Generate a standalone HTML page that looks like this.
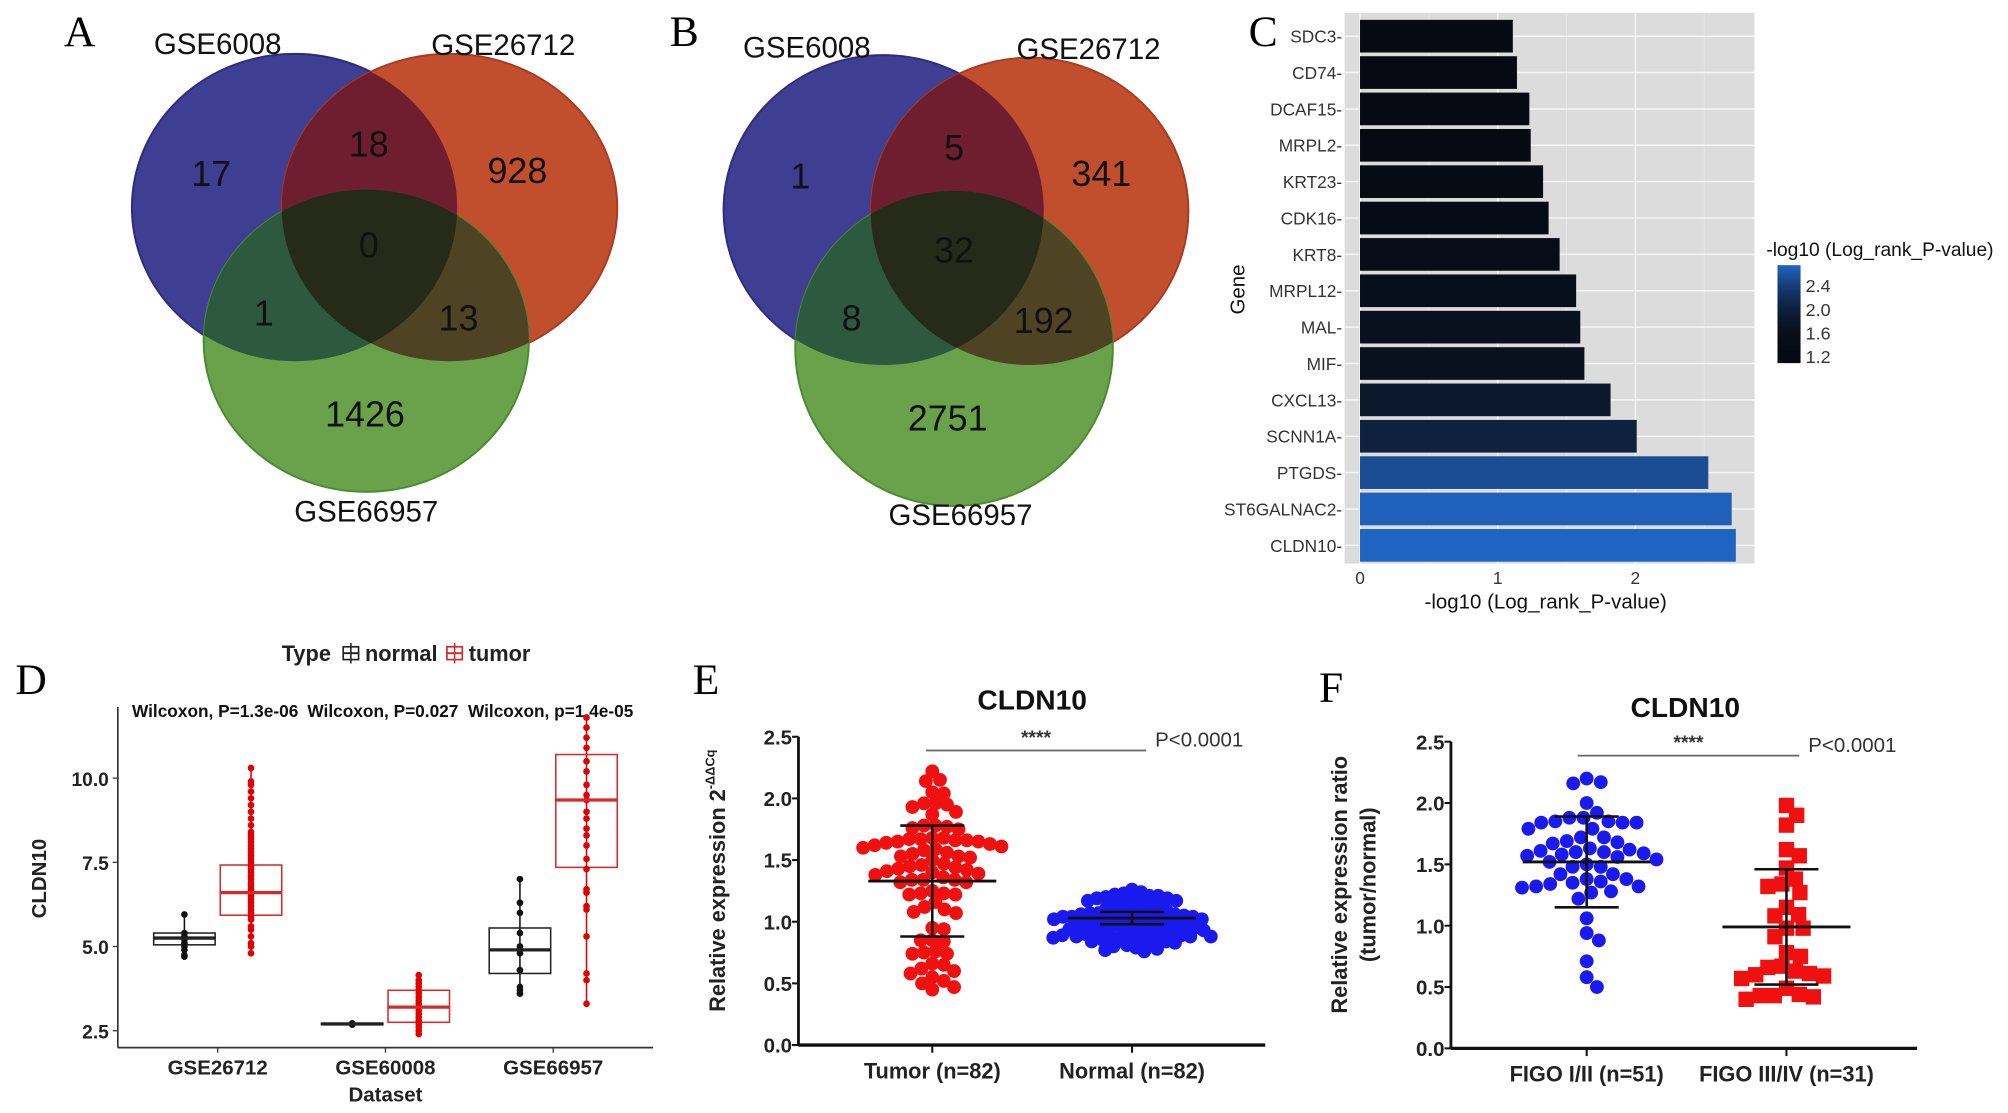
<!DOCTYPE html>
<html><head><meta charset="utf-8"><style>
html,body{margin:0;padding:0;background:#fff;}
svg{display:block;font-family:"Liberation Sans",sans-serif;}
.lt{font-family:"Liberation Serif",serif;font-size:34px;}
</style></head><body>
<svg id="fig" xmlns="http://www.w3.org/2000/svg" width="2008" height="1113" viewBox="0 0 1568 869">
<rect width="1568" height="869" fill="#fff"/>
<defs>
<clipPath id="cAb"><ellipse cx="230" cy="162" rx="127" ry="120"/></clipPath>
<clipPath id="cAr"><ellipse cx="351" cy="162" rx="131" ry="120"/></clipPath>
<clipPath id="cBb"><ellipse cx="690" cy="164" rx="125" ry="121"/></clipPath>
<clipPath id="cBr"><ellipse cx="804" cy="165" rx="124" ry="120"/></clipPath>
</defs>
<g id="panelA"></g>
<g id="panelB"></g>
<g id="panelC"></g>
<g id="panelD"></g>
<g id="panelE"></g>
<g id="panelF"></g>
</svg>
<script>
// ---- Venn data ----
const vennAcounts = ["17","18","928","0","1","13","1426"];
const vennBcounts = ["1","5","341","32","8","192","2751"];
const vennSets = ["GSE6008","GSE26712","GSE66957"];
// ---- C data ----
const cGenes = ["SDC3","CD74","DCAF15","MRPL2","KRT23","CDK16","KRT8","MRPL12","MAL","MIF","CXCL13","SCNN1A","PTGDS","ST6GALNAC2","CLDN10"];
const cValues = [1.11,1.14,1.23,1.24,1.33,1.37,1.45,1.57,1.60,1.63,1.82,2.01,2.53,2.70,2.73];
const cTicks = [0,1,2];
const cLegendTicks = ["2.4","2.0","1.6","1.2"];
const cLegendVals = [2.4,2.0,1.6,1.2];
// ---- D data ----
const dCats = ["GSE26712","GSE60008","GSE66957"];
const dTicks = [2.5,5.0,7.5,10.0];
const dPvals = ["Wilcoxon, P=1.3e-06","Wilcoxon, P=0.027","Wilcoxon, p=1.4e-05"];
const dNormalBox = [[5.05,5.25,5.4],[2.68,2.7,2.72],[4.2,4.9,5.55]];
const dTumorBox = [[5.93,6.6,7.42],[2.75,3.2,3.7],[7.35,9.35,10.7]];
const dNormalPts = [[4.7,4.75,4.9,5.0,5.1,5.2,5.25,5.3,5.4,5.95],[2.68,2.7,2.72],[3.6,3.7,3.8,4.3,4.8,4.9,5.0,5.4,6.0,6.3,7.0]];
const dTumorPts = [
 [4.8,5.0,5.1,5.3,5.5,5.6,5.8,5.9,6.0,6.1,6.2,6.3,6.4,6.5,6.6,6.7,6.8,6.9,7.0,7.1,7.2,7.3,7.4,7.5,7.6,7.7,7.8,7.9,8.0,8.1,8.2,8.3,8.4,8.6,8.8,9.0,9.2,9.4,9.6,9.8,9.9,10.3],
 [2.4,2.5,2.6,2.7,2.8,2.9,3.0,3.1,3.2,3.3,3.4,3.5,3.6,3.7,3.8,3.9,4.0,4.15],
 [3.3,4.0,4.2,5.3,6.1,6.2,6.6,6.7,7.3,7.6,8.0,8.3,8.5,8.8,9.0,9.35,9.5,9.8,10.2,10.5,10.9,11.2,11.5,11.8]];
// ---- E data ----
const eCats = ["Tumor (n=82)","Normal (n=82)"];
const eTicks = [0,0.5,1.0,1.5,2.0,2.5];
const eTumor = [2.22,2.15,2.14,2.05,2.04,1.96,1.96,1.95,1.93,1.89,1.87,1.78,1.77,1.76,1.75,1.78,1.68,1.68,1.67,1.67,1.66,1.66,1.65,1.65,1.64,1.63,1.62,1.61,1.60,1.59,1.58,1.56,1.55,1.53,1.53,1.52,1.50,1.47,1.46,1.45,1.44,1.43,1.42,1.41,1.40,1.39,1.38,1.36,1.34,1.34,1.34,1.32,1.32,1.25,1.23,1.23,1.22,1.22,1.16,1.12,1.10,1.08,1.07,0.95,0.94,0.85,0.85,0.84,0.76,0.75,0.74,0.74,0.66,0.65,0.62,0.60,0.58,0.55,0.52,0.50,0.47,0.45];
const eNormal = [1.26,1.24,1.23,1.22,1.21,1.20,1.19,1.18,1.17,1.16,1.15,1.14,1.13,1.12,1.11,1.10,1.09,1.08,1.08,1.07,1.07,1.06,1.06,1.05,1.05,1.04,1.04,1.03,1.03,1.02,1.02,1.01,1.01,1.00,1.00,0.99,0.99,0.98,0.98,0.97,0.97,0.96,0.96,0.95,0.95,0.94,0.94,0.93,0.93,0.92,0.92,0.91,0.91,0.90,0.90,0.89,0.89,0.88,0.88,0.87,0.87,0.86,0.86,0.85,0.85,0.84,0.84,0.83,0.82,0.81,0.80,0.79,0.78,0.77,0.76,1.21,1.19,1.17,1.06,1.04,0.90,0.88];
const eStats = [[1.33,0.88,1.78],[1.03,0.98,1.08]];
// ---- F data ----
const fCats = ["FIGO I/II (n=51)","FIGO III/IV (n=31)"];
const fTicks = [0,0.5,1.0,1.5,2.0,2.5];
const fEarly = [2.2,2.17,2.16,2.0,1.92,1.88,1.88,1.85,1.85,1.84,1.84,1.84,1.79,1.79,1.72,1.72,1.69,1.68,1.67,1.63,1.62,1.61,1.60,1.60,1.59,1.58,1.57,1.56,1.54,1.52,1.50,1.48,1.48,1.42,1.42,1.38,1.38,1.36,1.35,1.34,1.32,1.32,1.31,1.28,1.27,1.22,1.06,0.94,0.88,0.71,0.58,0.50];
const fLate = [1.98,1.9,1.82,1.62,1.57,1.47,1.38,1.34,1.32,1.27,1.15,1.09,1.08,0.98,0.98,0.91,0.78,0.75,0.67,0.66,0.63,0.61,0.60,0.59,0.57,0.49,0.44,0.43,0.43,0.42,0.40];
const fStats = [[1.52,1.15,1.89],[0.99,0.52,1.46]];

const NS="http://www.w3.org/2000/svg";
function mk(parent,tag,attrs,text){const e=document.createElementNS(NS,tag);for(const k in attrs)e.setAttribute(k,attrs[k]);if(text!==undefined)e.textContent=text;parent.appendChild(e);return e;}

// ---------- Venn ----------
function venn(g,id,bl,rd,gr,counts,pos,labPos,letter,lp){
  const cols={b:"#3e3f93",r:"#c14f2d",g:"#6aa24b",br:"#6e1e2e",bg:"#2d5a3e",rg:"#4e4424",all:"#262a18"};
  let e;
  e=mk(g,'ellipse',{cx:bl[0],cy:bl[1],rx:bl[2],ry:bl[3],fill:cols.b,stroke:"#2c2c7c","stroke-width":1.5});
  
  e=mk(g,'ellipse',{cx:rd[0],cy:rd[1],rx:rd[2],ry:rd[3],fill:cols.r,stroke:"#a83a20","stroke-width":1.5});
  
  e=mk(g,'ellipse',{cx:gr[0],cy:gr[1],rx:gr[2],ry:gr[3],fill:cols.g,stroke:"#4a8a30","stroke-width":1.5});
  
  const gb=mk(g,'g',{'clip-path':'url(#c'+id+'b)'});
  mk(gb,'ellipse',{cx:rd[0],cy:rd[1],rx:rd[2],ry:rd[3],fill:cols.br});
  mk(gb,'ellipse',{cx:gr[0],cy:gr[1],rx:gr[2],ry:gr[3],fill:cols.bg});
  const gr2=mk(g,'g',{'clip-path':'url(#c'+id+'r)'});
  mk(gr2,'ellipse',{cx:gr[0],cy:gr[1],rx:gr[2],ry:gr[3],fill:cols.rg});
  const gb2=mk(g,'g',{'clip-path':'url(#c'+id+'b)'});
  const gbr=mk(gb2,'g',{'clip-path':'url(#c'+id+'r)'});
  mk(gbr,'ellipse',{cx:gr[0],cy:gr[1],rx:gr[2],ry:gr[3],fill:cols.all});
  counts.forEach((c,i)=>{const t=mk(g,'text',{x:pos[i][0],y:pos[i][1],'text-anchor':'middle','font-size':28,fill:'#111'},c);
    });
  vennSets.forEach((s,i)=>{const t=mk(g,'text',{x:labPos[i][0],y:labPos[i][1],'text-anchor':'middle','font-size':23,fill:'#111'},s);
    });
  const L=mk(g,'text',{x:lp[0],y:lp[1],class:'lt'},letter);
  
}
venn(document.getElementById('panelA'),'A',[230,162,127,120],[351,162,131,120],[286,266,127,118],vennAcounts,
 [[165,145],[288,122],[404,143],[288,201],[206,254],[358,258],[285,333]],[[170,42],[393,43],[286,407]],"A",[50,36]);
venn(document.getElementById('panelB'),'B',[690,164,125,121],[804,165,124,120],[745,272,124,123],vennBcounts,
 [[625,147],[745,125],[860,145],[745,205],[665,258],[815,260],[740,336]],[[630,45],[850,46],[750,410]],"B",[523,36]);

// ---------- C ----------
(function(){
 const g=document.getElementById('panelC');
 const x0=1062,ux=107.5, yTop=10,rowH=28.4,bh=25.5;
 const xs=v=>x0+v*ux; const ys=i=>yTop+4+i*rowH+rowH/2;
 function col(v){let t=Math.max(0,Math.min(1,(v-1.1)/1.63));t=Math.pow(t,2.3);
   const a=[7,10,18],b=[32,100,194];return `rgb(${a.map((c,k)=>Math.round(c+(b[k]-c)*t)).join(',')})`;}
 mk(g,'rect',{x:1050,y:yTop,width:320,height:430,fill:'#dcdcdc'});
 [0.5,1.5,2.5].forEach(v=>mk(g,'line',{x1:xs(v),x2:xs(v),y1:yTop,y2:440,stroke:'#e8e8e8','stroke-width':0.6}));
 cTicks.forEach(v=>mk(g,'line',{x1:xs(v),x2:xs(v),y1:yTop,y2:440,stroke:'#f4f4f4','stroke-width':1.2}));
 cGenes.forEach((n,i)=>mk(g,'line',{x1:1050,x2:1370,y1:ys(i),y2:ys(i),stroke:'#f4f4f4','stroke-width':1.2}));
 cGenes.forEach((n,i)=>{
  const r=mk(g,'rect',{x:xs(0),y:ys(i)-bh/2,width:xs(cValues[i])-xs(0),height:bh,fill:col(cValues[i])});
  
  const t=mk(g,'text',{x:1048,y:ys(i)+5,'text-anchor':'end','font-size':13.5,fill:'#333'},n+'-');
  
 });
 cTicks.forEach(v=>{const t=mk(g,'text',{x:xs(v),y:456,'text-anchor':'middle','font-size':13.5,fill:'#333'},String(v));
  });
 let t=mk(g,'text',{x:1207,y:475,'text-anchor':'middle','font-size':16,fill:'#111'},'-log10 (Log_rank_P-value)');
 
 t=mk(g,'text',{x:972,y:226,'text-anchor':'middle','font-size':16,fill:'#111',transform:'rotate(-90 972 226)'},'Gene');
 
 t=mk(g,'text',{x:1468,y:200,'text-anchor':'middle','font-size':15,fill:'#111'},'-log10 (Log_rank_P-value)');
 
 const lg=mk(g,'g',{});
 
 const lyTop=207,lyBot=283, ly=v=>lyBot-(v-1.1)/(2.75-1.1)*(lyBot-lyTop);
 for(let k=0;k<40;k++){const v=1.1+(2.75-1.1)*k/40;mk(lg,'rect',{x:1388,y:ly(v+(1.65/40)),width:18,height:(lyBot-lyTop)/40+0.5,fill:col(v)});}
 cLegendTicks.forEach((s,i)=>{const t2=mk(g,'text',{x:1410,y:ly(cLegendVals[i])+5,'font-size':14,fill:'#333'},s);
  });
 t=mk(g,'text',{x:975,y:36,class:'lt'},'C');
})();

// ---------- D ----------
(function(){
 const g=document.getElementById('panelD');
 const ys=v=>804.8-(v-2.5)*26.3; const catX=[170,301,432]; const off=26, bw=48;
 mk(g,'line',{x1:92,x2:92,y1:552,y2:818,stroke:'#333','stroke-width':1.3});
 mk(g,'line',{x1:92,x2:510,y1:818,y2:818,stroke:'#333','stroke-width':1.3});
 dTicks.forEach(v=>{mk(g,'line',{x1:88,x2:92,y1:ys(v),y2:ys(v),stroke:'#333'});
  const t=mk(g,'text',{x:85,y:ys(v)+6,'text-anchor':'end','font-size':15,'font-weight':'bold',fill:'#222'},v.toFixed(1));
  });
 dCats.forEach((c,i)=>{
  mk(g,'line',{x1:catX[i],x2:catX[i],y1:818,y2:822,stroke:'#333'});
  let t=mk(g,'text',{x:catX[i],y:839,'text-anchor':'middle','font-size':16,'font-weight':'bold',fill:'#222'},c);
  
  t=mk(g,'text',{x:catX[i]-2,y:560,'text-anchor':'middle','font-size':13.5,'font-weight':'bold',fill:'#111'},dPvals[i]);
  
  [[dNormalBox[i],dNormalPts[i],-off,'#222','#111'],[dTumorBox[i],dTumorPts[i],off,'#d42a2a','#e00000']].forEach(([b,p,o,sc,pc],k)=>{
   const cx=catX[i]+o;
   const mn=Math.min(...p),mx=Math.max(...p);
   mk(g,'line',{x1:cx,x2:cx,y1:ys(mx),y2:ys(mn),stroke:pc,'stroke-width':1.2});
   const r=mk(g,'rect',{x:cx-bw/2,y:ys(b[2]),width:bw,height:Math.max(1,ys(b[0])-ys(b[2])),fill:'none',stroke:sc,'stroke-width':1.2});
   
   p.forEach(v=>{const c=mk(g,'circle',{cx:cx,cy:ys(v),r:2.6,fill:pc});
    });
   mk(g,'line',{x1:cx-bw/2,x2:cx+bw/2,y1:ys(b[1]),y2:ys(b[1]),stroke:sc,'stroke-width':2.6});
  });
 });
 let t=mk(g,'text',{x:301,y:860,'text-anchor':'middle','font-size':16,'font-weight':'bold',fill:'#222'},'Dataset');
 
 t=mk(g,'text',{x:36,y:686,'text-anchor':'middle','font-size':16,'font-weight':'bold',fill:'#222',transform:'rotate(-90 36 686)'},'CLDN10');
 
 const lg=mk(g,'g',{});
 mk(lg,'text',{x:220,y:516,'font-size':17,'font-weight':'bold',fill:'#222'},'Type');
 [[274,'#222','normal'],[355,'#d42a2a','tumor']].forEach(([x,c,l])=>{
  mk(lg,'rect',{x:x-6,y:505,width:12,height:10,fill:'none',stroke:c,'stroke-width':1.3});
  mk(lg,'line',{x1:x-6,x2:x+6,y1:510,y2:510,stroke:c,'stroke-width':1.5});
  mk(lg,'line',{x1:x,x2:x,y1:502,y2:518,stroke:c,'stroke-width':1.2});
  mk(lg,'text',{x:x+11,y:516,'font-size':17,'font-weight':'bold',fill:'#222'},l);});
 t=mk(g,'text',{x:12,y:542,class:'lt'},'D');
})();

// ---------- beeswarm ----------
function swarm(vals,cx,ys,d){const pts=[];const sorted=[...vals].sort((a,b)=>b-a);
 sorted.forEach(v=>{const y=ys(v);let best=null;
  for(let s=0;s<200;s++){const cand=[cx+s*0.5,cx-s*0.5];
   for(const x of cand){if(pts.every(p=>(p[0]-x)**2+(p[1]-y)**2>=d*d)){best=x;break;}}
   if(best!==null)break;}
  pts.push([best===null?cx:best,y,v]);});return pts;}

function dotPanel(g,ax,yT,y0,xR,unit,cats,catX,ticks,groups,stats,shapes,colors,title,titleX,ytitle,sig,letter,lp,ytitleX,dists){
 const ys=v=>y0-v*unit;
 mk(g,'line',{x1:ax,x2:ax,y1:ys(2.5),y2:y0,stroke:'#111','stroke-width':2.2});
 mk(g,'line',{x1:ax,x2:xR,y1:y0,y2:y0,stroke:'#111','stroke-width':2.6});
 ticks.forEach(v=>{mk(g,'line',{x1:ax-5,x2:ax,y1:ys(v),y2:ys(v),stroke:'#111','stroke-width':1.6});
  const t=mk(g,'text',{x:ax-5,y:ys(v)+6,'text-anchor':'end','font-size':16,'font-weight':'bold',fill:'#222'},v.toFixed(1));
  });
 cats.forEach((c,i)=>{
  mk(g,'line',{x1:catX[i],x2:catX[i],y1:y0,y2:y0+6,stroke:'#111','stroke-width':1.6});
  const t=mk(g,'text',{x:catX[i],y:y0+26,'text-anchor':'middle','font-size':17,'font-weight':'bold',fill:'#222'},c);
  
  const pts=swarm(groups[i],catX[i],ys,dists[i]);
  pts.forEach(p=>{let e;
   if(shapes[i]==='sq') e=mk(g,'rect',{x:p[0]-6,y:p[1]-6,width:12,height:12,fill:colors[i]});
   else e=mk(g,'circle',{cx:p[0],cy:p[1],r:5.4,fill:colors[i]});
   });
  const st=stats[i];const eg=mk(g,'g',{});
  
  mk(eg,'line',{x1:catX[i],x2:catX[i],y1:ys(st[2]),y2:ys(st[1]),stroke:'#111','stroke-width':2});
  mk(eg,'line',{x1:catX[i]-50,x2:catX[i]+50,y1:ys(st[0]),y2:ys(st[0]),stroke:'#111','stroke-width':2.2});
  mk(eg,'line',{x1:catX[i]-25,x2:catX[i]+25,y1:ys(st[1]),y2:ys(st[1]),stroke:'#111','stroke-width':2});
  mk(eg,'line',{x1:catX[i]-25,x2:catX[i]+25,y1:ys(st[2]),y2:ys(st[2]),stroke:'#111','stroke-width':2});
 });
 let t=mk(g,'text',{x:titleX,y:lp[1]+12,'text-anchor':'middle','font-size':22,'font-weight':'bold',fill:'#111'},title);
 
 mk(g,'line',{x1:sig[0],x2:sig[1],y1:sig[2],y2:sig[2],stroke:'#666','stroke-width':1.3});
 t=mk(g,'text',{x:(sig[0]+sig[1])/2,y:sig[2]-5,'text-anchor':'middle','font-size':15,'font-weight':'bold',fill:'#333'},'****');
 
 t=mk(g,'text',{x:sig[1]+7,y:sig[2]-3,'font-size':16,fill:'#333'},'P<0.0001');
 
 ytitle.forEach((line,k)=>{const x=ytitleX[k];const cy=(ys(2.5)+y0)/2-8;
  const tt=mk(g,'text',{x:x,y:cy,'text-anchor':'middle','font-size':17,'font-weight':'bold',fill:'#222',transform:`rotate(-90 ${x} ${cy})`});
  
  if(line==='E'){tt.textContent='Relative expression  2';mk(tt,'tspan',{'font-size':10,dy:-8},'-ΔΔCq');}
  else tt.textContent=line;});
 t=mk(g,'text',{x:lp[0],y:lp[1],class:'lt'},letter);
}
dotPanel(document.getElementById('panelE'),623.5,575,816,988,96.3,eCats,[728,884],eTicks,[eTumor,eNormal],eStats,['c','c'],['#f01010','#1a1aee'],
 'CLDN10',806,['E'],[723,895,586],'E',[541,542],[566],[9,7]);
dotPanel(document.getElementById('panelF'),1133,579,818.6,1497,95.8,fCats,[1239,1395],fTicks,[fEarly,fLate],fStats,['c','sq'],['#1a1aee','#f01010'],
 'CLDN10',1316,['Relative expression ratio','(tumor/normal)'],[1232,1405,590],'F',[1030,548],[1052,1074],[11,11]);
</script>
</body></html>
